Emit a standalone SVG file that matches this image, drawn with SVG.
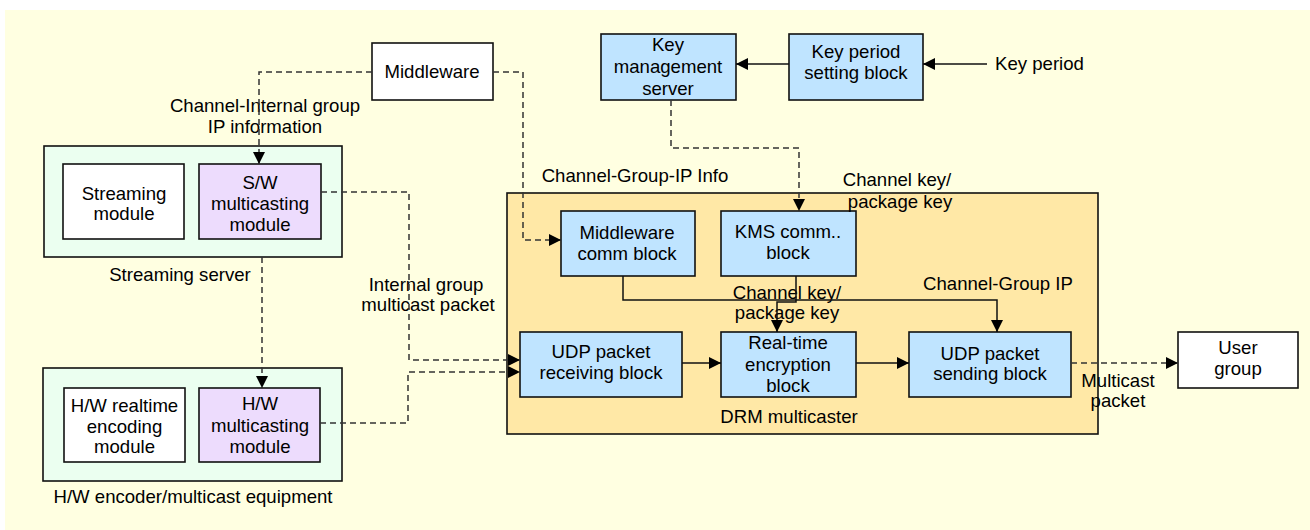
<svg xmlns="http://www.w3.org/2000/svg" width="1310" height="530" viewBox="0 0 1310 530">
  <style>
    text { font-family: "Liberation Sans", Arial, sans-serif; font-size: 18.6px; fill: #000; text-anchor: middle; }
    .box { stroke: #111; stroke-width: 1.6; }
    .white { fill: #ffffff; }
    .blue { fill: #bfe4ff; }
    .lav { fill: #eddcfd; }
    .green { fill: #ebfff0; }
    .drm { fill: #ffe8a6; }
    .solid { fill: none; stroke: #111; stroke-width: 1.5; }
    .dash { fill: none; stroke: #333; stroke-width: 1.5; stroke-dasharray: 6 4; }
  </style>
  <defs>
    <marker id="arrow" markerUnits="userSpaceOnUse" markerWidth="14" markerHeight="12" refX="12" refY="6" orient="auto">
      <path d="M0,0 L12,6 L0,12 Z" fill="#000"/>
    </marker>
  </defs>

  <!-- page background -->
  <rect x="5" y="10" width="1305" height="520" fill="#ffffe1"/>

  <!-- containers -->
  <g id="streaming-server">
    <rect class="box green" x="44" y="146" width="298" height="111"/>
    <text x="180" y="281">Streaming server</text>
  </g>
  <g id="hw-equipment">
    <rect class="box green" x="43" y="368" width="299" height="113"/>
    <text x="193" y="503">H/W encoder/multicast equipment</text>
  </g>
  <g id="drm-multicaster">
    <rect class="box drm" x="507" y="193" width="591" height="241"/>
    <text x="789" y="423">DRM multicaster</text>
  </g>

  <!-- nodes -->
  <g id="middleware">
    <rect class="box white" x="372" y="43" width="121" height="57"/>
    <text x="432" y="78">Middleware</text>
  </g>
  <g id="key-management-server">
    <rect class="box blue" x="601" y="34" width="135" height="66"/>
    <text x="668" y="51">Key</text>
    <text x="668" y="73">management</text>
    <text x="668" y="94.5">server</text>
  </g>
  <g id="key-period-setting">
    <rect class="box blue" x="789" y="34" width="134" height="66"/>
    <text x="856" y="58">Key period</text>
    <text x="856" y="79">setting block</text>
  </g>
  <g id="streaming-module">
    <rect class="box white" x="63" y="164" width="121" height="75"/>
    <text x="124" y="199.5">Streaming</text>
    <text x="124" y="220">module</text>
  </g>
  <g id="sw-multicasting">
    <rect class="box lav" x="199" y="164" width="122" height="75"/>
    <text x="260" y="188.5">S/W</text>
    <text x="260" y="209.5">multicasting</text>
    <text x="260" y="231">module</text>
  </g>
  <g id="hw-realtime-encoding">
    <rect class="box white" x="64" y="388" width="121" height="74"/>
    <text x="124.5" y="412">H/W realtime</text>
    <text x="124.5" y="432.5">encoding</text>
    <text x="124.5" y="453">module</text>
  </g>
  <g id="hw-multicasting">
    <rect class="box lav" x="199" y="388" width="121" height="74"/>
    <text x="260" y="410">H/W</text>
    <text x="260" y="431.5">multicasting</text>
    <text x="260" y="453">module</text>
  </g>
  <g id="middleware-comm">
    <rect class="box blue" x="561" y="211" width="134" height="65"/>
    <text x="627" y="239">Middleware</text>
    <text x="627" y="260">comm block</text>
  </g>
  <g id="kms-comm">
    <rect class="box blue" x="721" y="211" width="135" height="65"/>
    <text x="788" y="238">KMS comm..</text>
    <text x="788" y="259">block</text>
  </g>
  <g id="udp-receiving">
    <rect class="box blue" x="520" y="332" width="162" height="65"/>
    <text x="601" y="358">UDP packet</text>
    <text x="601" y="378.5">receiving block</text>
  </g>
  <g id="realtime-encryption">
    <rect class="box blue" x="721" y="332" width="135" height="65"/>
    <text x="788" y="349">Real-time</text>
    <text x="788" y="371">encryption</text>
    <text x="788" y="391.5">block</text>
  </g>
  <g id="udp-sending">
    <rect class="box blue" x="909" y="332" width="162" height="65"/>
    <text x="990" y="360">UDP packet</text>
    <text x="990" y="380">sending block</text>
  </g>
  <g id="user-group">
    <rect class="box white" x="1178" y="332" width="120" height="56"/>
    <text x="1238" y="354">User</text>
    <text x="1238" y="375">group</text>
  </g>

  <!-- connector labels -->
  <g id="labels">
    <text x="265" y="112">Channel-Internal group</text>
    <text x="265" y="133">IP information</text>
    <text x="426" y="291">Internal group</text>
    <text x="428" y="311">multicast packet</text>
    <text x="635" y="182">Channel-Group-IP Info</text>
    <text x="897" y="186">Channel key/</text>
    <text x="900" y="208">package key</text>
    <text x="787" y="299">Channel key/</text>
    <text x="787" y="319">package key</text>
    <text x="998" y="290">Channel-Group IP</text>
    <text x="1118" y="387">Multicast</text>
    <text x="1118" y="407">packet</text>
    <text x="995" y="69.5" style="text-anchor:start">Key period</text>
  </g>

  <!-- connectors -->
  <g id="connectors">
    <path class="dash" d="M372,72 H259 V164" marker-end="url(#arrow)"/>
    <path class="dash" d="M493,72 H523 V240 H561" marker-end="url(#arrow)"/>
    <path class="dash" d="M671,100 V148 H799 V211" marker-end="url(#arrow)"/>
    <path class="dash" d="M321,192 H409 V360 H520" marker-end="url(#arrow)"/>
    <path class="dash" d="M320,423 H408 V372 H520" marker-end="url(#arrow)"/>
    <path class="dash" d="M262,257 V388" marker-end="url(#arrow)"/>
    <path class="dash" d="M1071,363 H1178" marker-end="url(#arrow)"/>
    <path class="solid" d="M987,64 H923" marker-end="url(#arrow)"/>
    <path class="solid" d="M789,64 H736" marker-end="url(#arrow)"/>
    <path class="solid" d="M623,276 V300 H997 V332" marker-end="url(#arrow)"/>
    <path class="solid" d="M796,276 V302 H777 V332" marker-end="url(#arrow)"/>
    <path class="solid" d="M682,363 H721" marker-end="url(#arrow)"/>
    <path class="solid" d="M856,363 H909" marker-end="url(#arrow)"/>
  </g>
</svg>
